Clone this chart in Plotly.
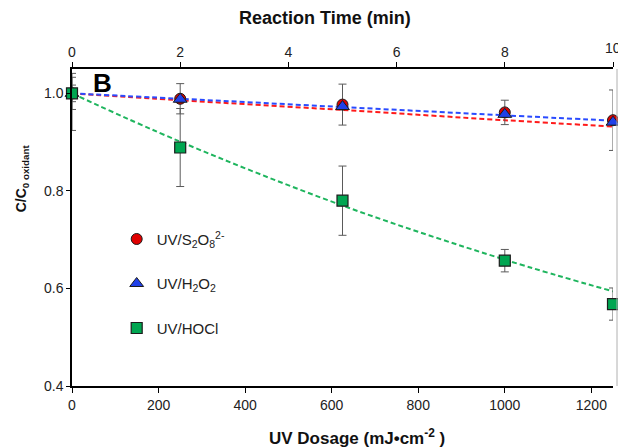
import plotly.graph_objects as go

# Sampling points
time_min = [0, 2, 5, 8, 10]
dose = [0, 250, 625, 1000, 1250]          # mJ/cm2

# Measured C/C0 of each oxidant
persulfate = [1.000, 0.989, 0.977, 0.961, 0.945]
h2o2 = [1.000, 0.988, 0.973, 0.957, 0.941]
hocl = [1.000, 0.889, 0.780, 0.657, 0.568]

# Error bars (standard deviation)
persulfate_err_plus = [0.017, 0.031, 0.042, 0.025, 0.062]
persulfate_err_minus = [0.017, 0.031, 0.042, 0.025, 0.062]
h2o2_err = [0.033, 0.0, 0.0, 0.0, 0.0]
hocl_err_plus = [0.041, 0.080, 0.071, 0.023, 0.033]
hocl_err_minus = [0.076, 0.080, 0.071, 0.023, 0.033]

# First-order trend lines evaluated at the sampling doses
persulfate_fit = [1.000, 0.986, 0.966, 0.945, 0.932]
h2o2_fit = [1.000, 0.989, 0.972, 0.955, 0.944]
hocl_fit = [1.000, 0.901, 0.770, 0.659, 0.594]

labels = ["UV/S<sub>2</sub>O<sub>8</sub><sup>2-</sup>",
          "UV/H<sub>2</sub>O<sub>2</sub>",
          "UV/HOCl"]

time_ticks = [0, 2, 4, 6, 8, 10]
dose_ticks = [0, 200, 400, 600, 800, 1000, 1200]
conc_ticks = [0.4, 0.6, 0.8, 1.0]

FONT = "Liberation Sans, Arial, sans-serif"
RED_LINE, BLUE_LINE, GREEN_LINE = "#ff1a1a", "#2a4bff", "#1fb55e"
RED_FILL, BLUE_FILL, GREEN_FILL = "#e00000", "#2040e8", "#00a651"
OUTLINE = "#1c1c1c"
ERR = "#5a5a5a"

fig = go.Figure()

for fit, col in [(persulfate_fit, RED_LINE), (h2o2_fit, BLUE_LINE), (hocl_fit, GREEN_LINE)]:
    fig.add_trace(go.Scatter(
        x=dose, y=fit, mode="lines", line_shape="spline",
        line=dict(color=col, width=2, dash="5px,3px"),
        showlegend=False, hoverinfo="skip", cliponaxis=False))

fig.add_trace(go.Scatter(
    x=dose, y=persulfate, mode="markers", name=labels[0], legendgroup="a",
    marker=dict(symbol="circle", size=11, color=RED_FILL, line=dict(color=OUTLINE, width=1)),
    error_y=dict(type="data", symmetric=False, array=persulfate_err_plus,
                 arrayminus=persulfate_err_minus, color=ERR, thickness=1, width=4),
    cliponaxis=False))
fig.add_trace(go.Scatter(
    x=dose, y=h2o2, mode="markers", name=labels[1], legendgroup="b",
    marker=dict(symbol="triangle-up", size=12, color=BLUE_FILL, line=dict(color=OUTLINE, width=1)),
    error_y=dict(type="data", array=h2o2_err, color=ERR, thickness=1, width=4),
    cliponaxis=False))
fig.add_trace(go.Scatter(
    x=dose, y=hocl, mode="markers", name=labels[2], legendgroup="c",
    marker=dict(symbol="square", size=11, color=GREEN_FILL, line=dict(color=OUTLINE, width=1.2)),
    error_y=dict(type="data", symmetric=False, array=hocl_err_plus,
                 arrayminus=hocl_err_minus, color=ERR, thickness=1, width=4),
    cliponaxis=False))

# Invisible trace to carry the reaction-time axis on top
fig.add_trace(go.Scatter(
    x=time_min, y=hocl, xaxis="x2", mode="lines", line=dict(width=0),
    opacity=0, showlegend=False, hoverinfo="skip"))

tickfont = dict(family=FONT, size=14, color="#222222")

fig.update_layout(
    width=618, height=447,
    margin=dict(l=72, r=5, t=69, b=61),
    paper_bgcolor="white", plot_bgcolor="white",
    font=dict(family=FONT, color="#222222"),
    xaxis=dict(range=[0, 1250], tickvals=dose_ticks,
               showgrid=False, zeroline=False, showline=True, linecolor="black",
               linewidth=1.5, ticks="outside", ticklen=5, tickcolor="black",
               tickfont=tickfont),
    xaxis2=dict(range=[0, 10], overlaying="x", side="top", anchor="y",
                tickvals=time_ticks, showgrid=False, zeroline=False,
                showline=True, linecolor="black", linewidth=1.5, ticks="outside",
                ticklen=5, tickcolor="black", tickfont=tickfont),
    yaxis=dict(range=[0.4, 1.05], tickvals=conc_ticks, tickformat=".1f",
               showgrid=False, zeroline=False, showline=True, linecolor="black",
               linewidth=1.5, ticks="outside", ticklen=4, tickcolor="black",
               tickfont=tickfont),
    legend=dict(x=0.0826, y=0.515, xanchor="left", yanchor="top",
                bgcolor="rgba(0,0,0,0)", tracegroupgap=22,
                font=dict(family=FONT, size=15, color="#222222")),
    annotations=[
        # last top tick label, which runs past the right edge of the page
        dict(text=str(time_ticks[-1]), xref="x2", yref="paper", x=time_ticks[-1], y=1.0,
             yshift=21, xanchor="center", yanchor="middle", showarrow=False,
             font=tickfont),
        dict(text="<b>B</b>", xref="paper", yref="paper", x=0.038, y=1.0,
             xshift=-2, yshift=3, xanchor="left", yanchor="top", showarrow=False,
             font=dict(family=FONT, size=26, color="black")),
        dict(text="<b>Reaction Time (min)</b>", xref="paper", yref="paper",
             x=0.468, y=1.0, yshift=51, xanchor="center", yanchor="middle",
             showarrow=False, font=dict(family=FONT, size=18, color="#111111")),
        dict(text="<b>UV Dosage (mJ•cm<sup>-2</sup> )</b>", xref="paper", yref="paper",
             x=0.527, y=0.0, yshift=-51, xanchor="center", yanchor="middle",
             showarrow=False, font=dict(family=FONT, size=17, color="#111111")),
        dict(text="<b>C/C<sub>0 oxidant</sub></b>", xref="paper", yref="paper",
             x=0.0, xshift=-50, y=0.655, xanchor="center", yanchor="middle",
             textangle=-90, showarrow=False,
             font=dict(family=FONT, size=14, color="#111111")),
    ],
    shapes=[dict(type="line", xref="paper", yref="paper", x0=1.0074, x1=1.0074,
                 y0=0, y1=1, line=dict(color="#b0b0b0", width=1))],
)

fig.write_html("out.html")
